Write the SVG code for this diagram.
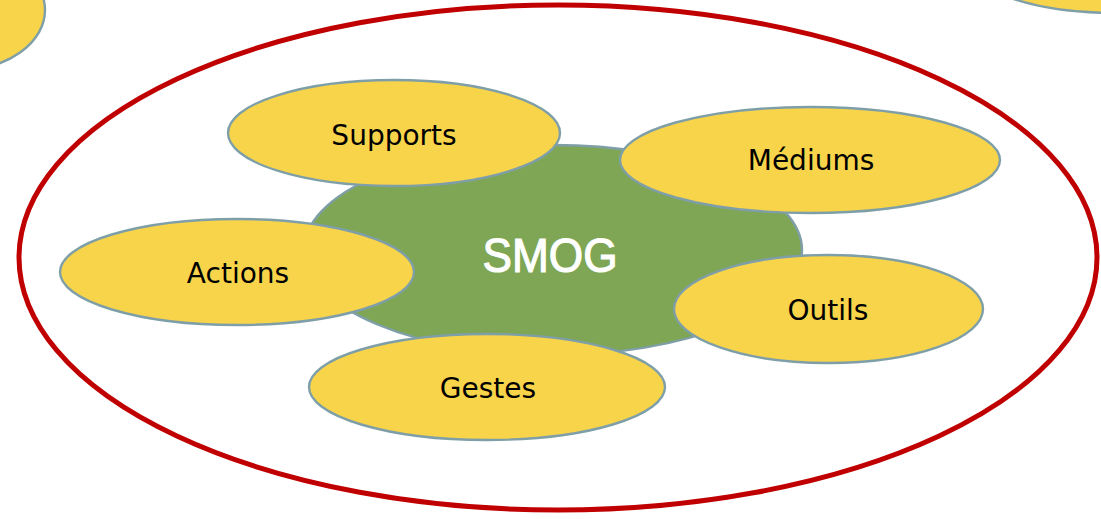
<svg xmlns="http://www.w3.org/2000/svg" width="1101" height="519" viewBox="0 0 1101 519">
<style>
.y{fill:#F8D44A;stroke:#7F9FA8;stroke-width:2.4}
.lbl{font-family:"DejaVu Sans",sans-serif;font-size:28px;fill:#000;text-anchor:middle}
</style>
<rect width="1101" height="519" fill="#fff"/>
<g id="frame"><ellipse cx="558" cy="257.5" rx="539" ry="252.5" fill="none" stroke="#C00000" stroke-width="5"/></g>
<g id="partial-left"><ellipse class="y" cx="-40" cy="10" rx="85" ry="60"/></g>
<g id="partial-right"><ellipse class="y" cx="1115" cy="-40" rx="150" ry="53"/></g>
<g id="connectors"></g>
<g id="smog">
<ellipse cx="553" cy="250" rx="249" ry="105" fill="#7EA655" stroke="#7F9FA8" stroke-width="2.4"/>
<text x="550" y="272" font-family="Liberation Sans,Arial,sans-serif" font-size="49" fill="#fff" stroke="#fff" stroke-width="1.2" text-anchor="middle" textLength="135" lengthAdjust="spacingAndGlyphs">SMOG</text>
</g>
<g id="supports"><ellipse class="y" cx="394" cy="133" rx="166" ry="53"/><text class="lbl" x="394" y="145">Supports</text></g>
<g id="mediums"><ellipse class="y" cx="810" cy="160" rx="190" ry="53"/><text class="lbl" x="811" y="170">Médiums</text></g>
<g id="actions"><ellipse class="y" cx="237" cy="272" rx="177" ry="53"/><text class="lbl" x="238" y="283">Actions</text></g>
<g id="outils"><ellipse class="y" cx="828.5" cy="309" rx="154.5" ry="54"/><text class="lbl" x="828" y="320">Outils</text></g>
<g id="gestes"><ellipse class="y" cx="487" cy="387" rx="178" ry="53"/><text class="lbl" x="488" y="398">Gestes</text></g>
</svg>
